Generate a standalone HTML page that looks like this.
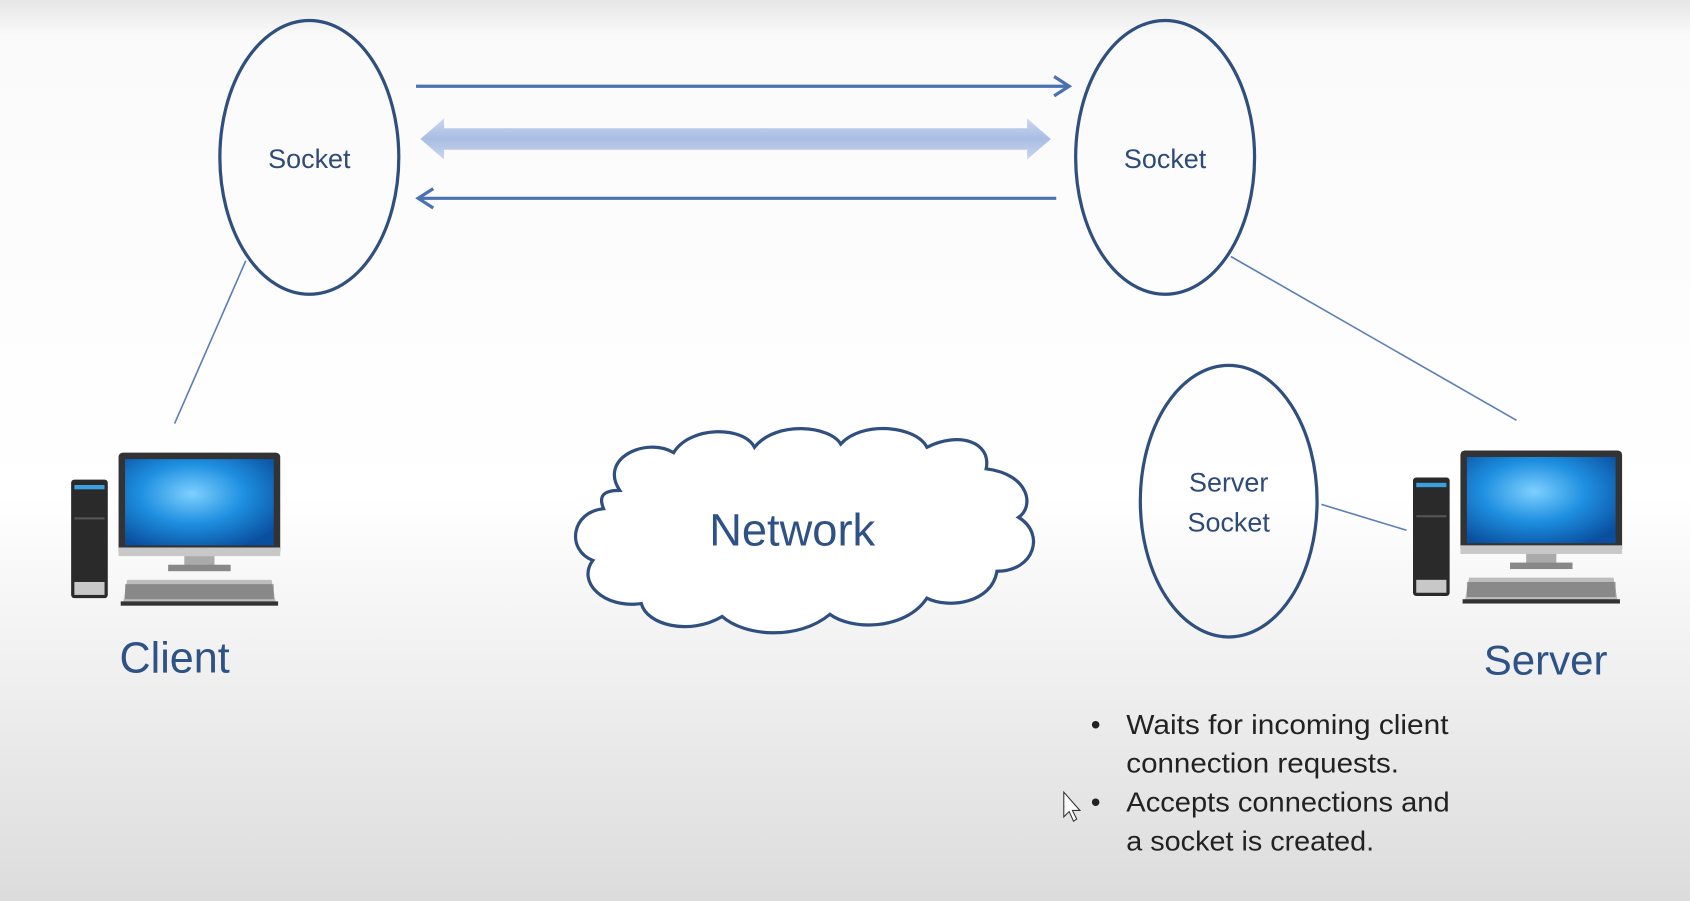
<!DOCTYPE html>
<html><head><meta charset="utf-8"><style>
html,body{margin:0;padding:0;width:1690px;height:901px;overflow:hidden}
svg{display:block}
text{font-family:"Liberation Sans","DejaVu Sans",sans-serif}
</style></head><body>
<svg width="1690" height="901" viewBox="0 0 1568 836" preserveAspectRatio="none">
<defs>
<linearGradient id="bg" x1="0" y1="0" x2="0" y2="1">
<stop offset="0" stop-color="#e6e6e6"/><stop offset="0.04" stop-color="#fafafa"/>
<stop offset="0.55" stop-color="#ffffff"/><stop offset="1" stop-color="#dcdcdc"/></linearGradient>
<linearGradient id="thick" x1="0" y1="0" x2="0" y2="1">
<stop offset="0" stop-color="#c9d6ee"/><stop offset="0.5" stop-color="#a9bde3"/><stop offset="1" stop-color="#c9d6ee"/></linearGradient>
<radialGradient id="scr" cx="0.45" cy="0.4" r="0.7">
<stop offset="0" stop-color="#7fd0ff"/><stop offset="0.5" stop-color="#1e8fe0"/><stop offset="1" stop-color="#0a4e9e"/></radialGradient>
<g id="pc">
<rect x="0" y="25" width="34" height="110" rx="3" fill="#2a2a2a"/>
<rect x="3" y="30" width="28" height="4" fill="#3aa0e0"/>
<rect x="3" y="60" width="28" height="2" fill="#555"/>
<rect x="3" y="120" width="28" height="12" fill="#c8c8c8"/>
<rect x="44" y="0" width="150" height="95" rx="4" fill="#333"/>
<rect x="50" y="6" width="138" height="80" fill="url(#scr)"/>
<rect x="44" y="88" width="150" height="8" fill="#c8c8c8"/>
<rect x="105" y="96" width="28" height="10" fill="#aaa"/>
<rect x="90" y="104" width="58" height="6" fill="#888"/>
<polygon points="52,118 186,118 190,140 48,140" fill="#bdbdbd"/>
<rect x="50" y="122" width="138" height="14" fill="#555" opacity="0.5"/>
<rect x="46" y="138" width="146" height="4" fill="#333"/>
</g>
</defs>
<rect width="1568" height="836" fill="url(#bg)"/>
<g fill="none" stroke="#2f4f7f" stroke-width="3">
<ellipse cx="287" cy="146" rx="83" ry="127"/>
<ellipse cx="1081" cy="146" rx="83" ry="127"/>
<ellipse cx="1140" cy="465" rx="82" ry="126"/>
</g>
<g stroke="#5a7fb8" stroke-width="1.5">
<line x1="228" y1="242" x2="162" y2="393"/>
<line x1="1142" y1="238" x2="1407" y2="390"/>
<line x1="1226" y1="468" x2="1305" y2="492"/>
</g>
<g stroke="#4a72b0" stroke-width="3" fill="none">
<line x1="386" y1="80" x2="990" y2="80"/>
<polyline points="978,71 992,80 978,89"/>
<line x1="390" y1="184" x2="980" y2="184"/>
<polyline points="402,175 388,184 402,193"/>
</g>
<polygon points="390,129 412,110 412,119 953,119 953,110 975,129 953,148 953,139 412,139 412,148" fill="url(#thick)"/>
<text x="287" y="156" font-size="25" fill="#2e4a78" text-anchor="middle">Socket</text>
<text x="1081" y="156" font-size="25" fill="#2e4a78" text-anchor="middle">Socket</text>
<text x="1140" y="456" font-size="25" fill="#2e4a78" text-anchor="middle">Server</text>
<text x="1140" y="493" font-size="25" fill="#2e4a78" text-anchor="middle">Socket</text>
<path d="M575,455 C555,425 600,405 625,420 C640,395 690,395 700,415 C720,390 770,395 780,412 C800,390 850,395 860,415 C890,400 920,410 915,435 C955,440 960,470 945,480 C970,495 960,530 925,530 C920,560 880,565 860,555 C840,585 790,585 770,570 C740,595 690,590 670,572 C640,590 600,580 595,560 C560,565 535,540 550,520 C525,510 530,475 560,472 C555,460 560,455 575,455 Z" fill="#fff" stroke="#2f4f7f" stroke-width="3"/>
<text x="735" y="506" font-size="42" fill="#2e5286" text-anchor="middle">Network</text>
<use href="#pc" x="66" y="420"/>
<use href="#pc" x="1311" y="418"/>
<text x="162" y="624" font-size="40" fill="#2e5286" text-anchor="middle">Client</text>
<text x="1434" y="626" font-size="39" fill="#2e5286" text-anchor="middle">Server</text>
<g font-size="26" fill="#222">
<text x="1012" y="681">•</text><text x="1045" y="681" textLength="299" lengthAdjust="spacingAndGlyphs">Waits for incoming client</text>
<text x="1045" y="717" textLength="253" lengthAdjust="spacingAndGlyphs">connection requests.</text>
<text x="1012" y="753">•</text><text x="1045" y="753" textLength="300" lengthAdjust="spacingAndGlyphs">Accepts connections and</text>
<text x="1045" y="789" textLength="230" lengthAdjust="spacingAndGlyphs">a socket is created.</text>
</g>
<path d="M987,735 L987,758 L992,753 L996,762 L999,760 L995,752 L1002,752 Z" fill="#fff" stroke="#333" stroke-width="1"/>
</svg>
</body></html>
